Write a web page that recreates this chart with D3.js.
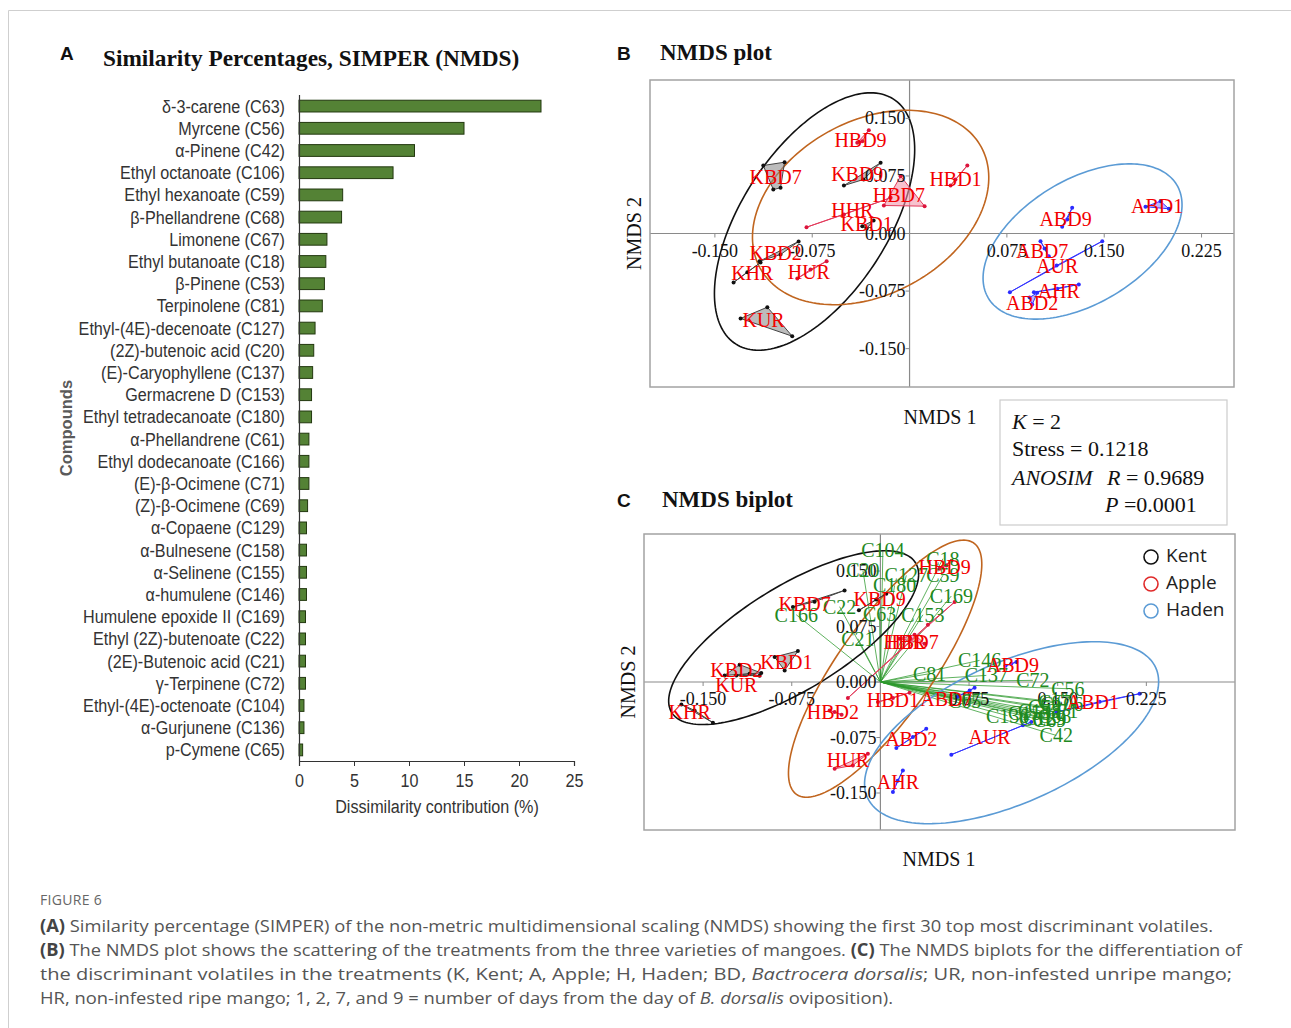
<!DOCTYPE html>
<html>
<head>
<meta charset="utf-8">
<script src="https://cdn.jsdelivr.net/npm/d3@7"></script>
<style>
  body { margin: 0; background: #fff; }
  svg { display: block; }
</style>
</head>
<body>
<svg id="fig" width="1291" height="1028"></svg>
<script>
// ---------- Panel A: SIMPER contributions ----------
const compounds = [
  "δ-3-carene (C63)", "Myrcene (C56)", "α-Pinene (C42)", "Ethyl octanoate (C106)",
  "Ethyl hexanoate (C59)", "β-Phellandrene (C68)", "Limonene (C67)", "Ethyl butanoate (C18)",
  "β-Pinene (C53)", "Terpinolene (C81)", "Ethyl-(4E)-decenoate (C127)", "(2Z)-butenoic acid (C20)",
  "(E)-Caryophyllene (C137)", "Germacrene D (C153)", "Ethyl tetradecanoate (C180)", "α-Phellandrene (C61)",
  "Ethyl dodecanoate (C166)", "(E)-β-Ocimene (C71)", "(Z)-β-Ocimene (C69)", "α-Copaene (C129)",
  "α-Bulnesene (C158)", "α-Selinene (C155)", "α-humulene (C146)", "Humulene epoxide II (C169)",
  "Ethyl (2Z)-butenoate (C22)", "(2E)-Butenoic acid (C21)", "γ-Terpinene (C72)", "Ethyl-(4E)-octenoate (C104)",
  "α-Gurjunene (C136)", "p-Cymene (C65)"
];
const contribution = [
  22.0, 15.0, 10.5, 8.55, 3.97, 3.87, 2.54, 2.44, 2.31, 2.12,
  1.46, 1.34, 1.24, 1.14, 1.14, 0.90, 0.90, 0.90, 0.78, 0.68,
  0.68, 0.68, 0.68, 0.59, 0.59, 0.59, 0.59, 0.45, 0.45, 0.33
];
const contributionTicks = [0, 5, 10, 15, 20, 25];

// ---------- Shared NMDS axis ticks ----------
const nmdsXTicks = [-0.150, -0.075, 0.075, 0.150, 0.225];
const nmdsYTicks = [0.150, 0.075, 0.000, -0.075, -0.150];

// ---------- Panel B: NMDS ordination (3 replicates per treatment) ----------
const plotGroups = [
  { name: "KBD7", variety: "K", pts: [[-0.1127, 0.0886], [-0.0963, 0.0929], [-0.1050, 0.0573], [-0.0994, 0.0595]], label: [-0.1032, 0.0730] },
  { name: "KBD9", variety: "K", pts: [[-0.0506, 0.0625], [-0.0223, 0.0921], [-0.0354, 0.0704]], label: [-0.0403, 0.0769] },
  { name: "KBD1", variety: "K", pts: [[-0.0364, 0.0095], [-0.0331, 0.0065], [-0.0277, 0.0169]], label: [-0.0331, 0.0130] },
  { name: "KBD2", variety: "K", pts: [[-0.1156, -0.0361], [-0.0855, -0.0104], [-0.0994, -0.0274]], label: [-0.1032, -0.0251] },
  { name: "KHR", variety: "K", pts: [[-0.1356, -0.0638], [-0.1250, -0.0504], [-0.1148, -0.0378]], label: [-0.1212, -0.0512] },
  { name: "KUR", variety: "K", pts: [[-0.1302, -0.1107], [-0.1096, -0.0960], [-0.0904, -0.1338]], label: [-0.1125, -0.1121] },
  { name: "HBD9", variety: "H", pts: [[-0.0314, 0.1346], [-0.0403, 0.1182], [-0.0364, 0.1203]], label: [-0.0378, 0.1212] },
  { name: "HBD7", variety: "H", pts: [[-0.0069, 0.0747], [-0.0198, 0.0365], [0.0116, 0.0356]], label: [-0.0082, 0.0508] },
  { name: "HBD1", variety: "H", pts: [[0.0445, 0.0886], [0.0354, 0.0704], [0.0316, 0.0625]], label: [0.0354, 0.0704] },
  { name: "HHR", variety: "H", pts: [[-0.0794, 0.0082], [-0.0506, 0.0248], [-0.0146, 0.0465]], label: [-0.0441, 0.0300] },
  { name: "HUR", variety: "H", pts: [[-0.0865, -0.0586], [-0.0763, -0.0469], [-0.0639, -0.0361]], label: [-0.0776, -0.0504] },
  { name: "ABD1", variety: "A", pts: [[0.1818, 0.0348], [0.1934, 0.0421], [0.1998, 0.0322]], label: [0.1908, 0.0356] },
  { name: "ABD9", variety: "A", pts: [[0.1253, 0.0335], [0.1176, 0.0087], [0.1215, 0.0182]], label: [0.1202, 0.0192] },
  { name: "ABD7", variety: "A", pts: [[0.1009, -0.0100], [0.1073, -0.0296], [0.1040, -0.0195]], label: [0.1022, -0.0231] },
  { name: "AUR", variety: "A", pts: [[0.0773, -0.0765], [0.1485, -0.0100], [0.1133, -0.0417]], label: [0.1138, -0.0426] },
  { name: "AHR", variety: "A", pts: [[0.0958, -0.0765], [0.1304, -0.0664], [0.1138, -0.0721]], label: [0.1150, -0.0752] },
  { name: "ABD2", variety: "A", pts: [[0.0945, -0.0925], [0.0984, -0.0773], [0.0925, -0.0834]], label: [0.0945, -0.0903] }
];
// 95% ellipses per variety: centre and two conjugate semi-diameters (data units)
const plotEllipses = [
  { variety: "K", cx: -0.0732, cy: 0.0156, u: [0.0608, 0.1595], v: [0.0475, -0.0517] },
  { variety: "H", cx: -0.0300, cy: 0.0339, u: [0.0852, 0.0789], v: [0.0321, -0.0991] },
  { variety: "A", cx: 0.1333, cy: -0.0104, u: [0.0726, 0.0738], v: [0.0246, -0.0692] }
];

// ---------- Panel C: NMDS biplot ----------
const biplotGroups = [
  { name: "KBD7", variety: "K", pts: [[-0.0740, 0.1014], [-0.0303, 0.1238], [-0.0557, 0.1085]], label: [-0.0641, 0.1058] },
  { name: "KBD9", variety: "K", pts: [[-0.0182, 0.0968], [-0.0035, 0.1116], [0.0050, 0.1193]], label: [-0.0007, 0.1126] },
  { name: "KBD1", variety: "K", pts: [[-0.0895, 0.0338], [-0.0698, 0.0419], [-0.0810, 0.0157]], label: [-0.0796, 0.0270] },
  { name: "KBD2", variety: "K", pts: [[-0.1191, 0.0234], [-0.1008, 0.0122], [-0.1318, 0.0089]], label: [-0.1219, 0.0157] },
  { name: "KUR", variety: "K", pts: [[-0.1219, 0.0089], [-0.1107, 0.0112], [-0.1022, 0.0085]], label: [-0.1219, -0.0046] },
  { name: "KHR", variety: "K", pts: [[-0.1684, -0.0303], [-0.1572, -0.0384], [-0.1417, -0.0550]], label: [-0.1614, -0.0405] },
  { name: "HBD9", variety: "H", pts: [[0.0558, 0.1576], [0.0602, 0.1639], [0.0501, 0.1531]], label: [0.0543, 0.1554] },
  { name: "HBD7", variety: "H", pts: [[0.0162, 0.0585], [0.0289, 0.0639], [0.0374, 0.0518]], label: [0.0272, 0.0545] },
  { name: "HHR", variety: "H", pts: [[-0.0275, -0.0216], [0.0402, 0.0774], [0.0628, 0.1081]], label: [0.0205, 0.0545] },
  { name: "HBD2", variety: "H", pts: [[-0.0430, -0.0384], [-0.0387, -0.0405], [-0.0328, -0.0442]], label: [-0.0402, -0.0405] },
  { name: "HBD1", variety: "H", pts: [[-0.0021, -0.0270], [0.0106, -0.0216], [0.0247, -0.0145]], label: [0.0106, -0.0249] },
  { name: "HUR", variety: "H", pts: [[-0.0387, -0.1172], [-0.0233, -0.1127], [-0.0106, -0.0969]], label: [-0.0275, -0.1059] },
  { name: "ABD9", variety: "A", pts: [[0.1107, 0.0247], [0.1150, 0.0270], [0.1059, 0.0220]], label: [0.1121, 0.0224] },
  { name: "ABD7", variety: "A", pts: [[0.0755, -0.0114], [0.0653, -0.0199], [0.0797, -0.0077]], label: [0.0558, -0.0226] },
  { name: "ABD1", variety: "A", pts: [[0.1488, -0.0405], [0.1854, -0.0266], [0.2193, -0.0158]], label: [0.1798, -0.0270] },
  { name: "ABD2", variety: "A", pts: [[0.0135, -0.0892], [0.0275, -0.0743], [0.0388, -0.0631]], label: [0.0261, -0.0766] },
  { name: "AUR", variety: "A", pts: [[0.0600, -0.0982], [0.1277, -0.0541], [0.1206, -0.0586]], label: [0.0924, -0.0743] },
  { name: "AHR", variety: "A", pts: [[0.0106, -0.1486], [0.0190, -0.1195], [0.0146, -0.1334]], label: [0.0148, -0.1351] }
];
const biplotEllipses = [
  { variety: "K", cx: -0.0734, cy: 0.0599, u: [0.1032, 0.1010], v: [0.0230, -0.0599] },
  { variety: "H", cx: 0.0040, cy: 0.0180, u: [0.0750, 0.1698], v: [0.0326, -0.0367] },
  { variety: "A", cx: 0.1110, cy: -0.0685, u: [0.1220, 0.0876], v: [0.0243, -0.0863] }
];
// Compound loading vectors (tip coordinates)
const vectorNames = [
  "C104", "C20", "C18", "C59", "C127", "C180", "C169", "C22", "C166", "C63",
  "C153", "C21", "C81", "C146", "C137", "C72", "C56", "C65", "C136", "C68",
  "C42", "C155", "C158", "C129", "C53", "C71", "C69", "C61", "C106", "C67"
];
const vectorX = [
  0.0021, -0.0148, 0.0529, 0.0529, 0.0219, 0.0120, 0.0600, -0.0345, -0.0712, -0.0007,
  0.0360, -0.0190, 0.0416, 0.0839, 0.0896, 0.1290, 0.1586, 0.0712, 0.1076, 0.1474,
  0.1488, 0.1262, 0.1347, 0.1389, 0.1389, 0.1533, 0.1431, 0.1313, 0.1533, 0.1474
];
const vectorY = [
  0.1778, 0.1508, 0.1666, 0.1441, 0.1441, 0.1305, 0.1162, 0.1018, 0.0909, 0.0923,
  0.0909, 0.0585, 0.0112, 0.0292, 0.0089, 0.0022, -0.0091, -0.0253, -0.0455, -0.0455,
  -0.0722, -0.0415, -0.0388, -0.0482, -0.0334, -0.0388, -0.0509, -0.0496, -0.0293, -0.0266
];

const legendItems = ["Kent", "Apple", "Haden"];

const captionLines = [
  [["(A)", "b"], [" Similarity percentage (SIMPER) of the non-metric multidimensional scaling (NMDS) showing the first 30 top most discriminant volatiles.", ""]],
  [["(B)", "b"], [" The NMDS plot shows the scattering of the treatments from the three varieties of mangoes. ", ""], ["(C)", "b"], [" The NMDS biplots for the differentiation of", ""]],
  [["the discriminant volatiles in the treatments (K, Kent; A, Apple; H, Haden; BD, ", ""], ["Bactrocera dorsalis", "i"], ["; UR, non-infested unripe mango;", ""]],
  [["HR, non-infested ripe mango; 1, 2, 7, and 9 = number of days from the day of ", ""], ["B. dorsalis", "i"], [" oviposition).", ""]]
];
const captionWidths = [1173, 1202, 1192, 853];

// ================= drawing =================
const svg = d3.select("#fig");
const SANS = "'Liberation Sans', Arial, sans-serif";
const SERIF = "'Liberation Serif', 'Times New Roman', serif";
const CAP = "'Open Sans', 'Noto Sans', sans-serif";

// page frame
svg.append("path").attr("d", "M8.5,1028V10.5H1291")
  .attr("fill", "none").attr("stroke", "#cfcfcf").attr("stroke-width", 1);

// panel letters
[["A", 60, 60], ["B", 617, 60], ["C", 617, 507]].forEach(([t, x, y]) => {
  svg.append("text").attr("x", x).attr("y", y).text(t)
    .attr("font-family", SANS).attr("font-weight", "bold").attr("font-size", 19).attr("fill", "#111");
});

// ---------- Panel A ----------
(function () {
  const g = svg.append("g");
  const x = d3.scaleLinear().domain([0, 25]).range([299, 574]);
  const y = d3.scaleBand().domain(compounds).range([95, 761]).paddingInner(0.47).paddingOuter(0.235);
  const narrow = "scale(0.85,1)";

  g.append("text").attr("x", 103).attr("y", 66)
    .text("Similarity Percentages, SIMPER (NMDS)")
    .attr("font-family", SERIF).attr("font-weight", "bold").attr("font-size", 23.3).attr("fill", "#111");

  g.selectAll("rect.bar").data(compounds).join("rect").attr("class", "bar")
    .attr("x", x(0)).attr("y", d => y(d))
    .attr("width", (d, i) => x(contribution[i]) - x(0))
    .attr("height", y.bandwidth())
    .attr("fill", "#548235").attr("stroke", "#22380f").attr("stroke-width", 1);

  // category labels (condensed)
  g.selectAll("text.cat").data(compounds).join("text").attr("class", "cat")
    .attr("transform", d => `translate(285,${y(d) + y.bandwidth() / 2}) ${narrow}`)
    .attr("text-anchor", "end").attr("dominant-baseline", "central")
    .attr("font-family", SANS).attr("font-size", 19).attr("fill", "#333")
    .text(d => d);

  // vertical axis line
  g.append("line").attr("x1", 299.5).attr("x2", 299.5).attr("y1", 95).attr("y2", 761)
    .attr("stroke", "#333").attr("stroke-width", 1.2);

  const ax = g.append("g").attr("transform", "translate(0,761)")
    .call(d3.axisBottom(x).tickValues(contributionTicks).tickSize(5).tickPadding(8).tickFormat(d3.format("d")));
  ax.select(".domain").attr("stroke", "#333").attr("stroke-width", 1.2);
  ax.selectAll(".tick line").attr("stroke", "#333");
  ax.selectAll(".tick text").attr("transform", narrow)
    .attr("font-family", SANS).attr("font-size", 19).attr("fill", "#333");

  g.append("text").attr("transform", `translate(437,807) ${narrow}`)
    .attr("text-anchor", "middle").attr("dominant-baseline", "central")
    .attr("font-family", SANS).attr("font-size", 19).attr("fill", "#333")
    .text("Dissimilarity contribution (%)");

  g.append("text").attr("transform", "translate(66,428) rotate(-90)")
    .attr("text-anchor", "middle").attr("dominant-baseline", "central")
    .attr("font-family", SANS).attr("font-weight", "bold").attr("font-size", 16.5).attr("fill", "#5a5a5a")
    .text("Compounds");
})();

// ---------- NMDS panels ----------
const varietyStyle = {
  K: { dot: "#111", hullFill: "#8f8f8f", hullStroke: "#444", ellipse: "#111" },
  H: { dot: "#dc143c", hullFill: "#f29aae", hullStroke: "#e33b5c", ellipse: "#c0651f" },
  A: { dot: "#2b2bff", hullFill: "#8a8aff", hullStroke: "#3535ff", ellipse: "#5b9bd5" }
};
const fmtTick = v => (v < 0 ? "-" : "") + Math.abs(v).toFixed(3);

function nmdsPanel(cfg) {
  const g = svg.append("g");
  const x = d3.scaleLinear().domain(cfg.xDomain).range([cfg.left, cfg.right]);
  const y = d3.scaleLinear().domain(cfg.yDomain).range([cfg.bottom, cfg.top]);
  const px = p => [x(p[0]), y(p[1])];

  // title
  g.append("text").attr("x", cfg.titleX).attr("y", cfg.titleY).text(cfg.title)
    .attr("font-family", SERIF).attr("font-weight", "bold").attr("font-size", 23).attr("fill", "#111");

  // zero axes
  g.append("line").attr("x1", cfg.left).attr("x2", cfg.right).attr("y1", y(0)).attr("y2", y(0))
    .attr("stroke", "#8a8a8a").attr("stroke-width", 1.2);
  g.append("line").attr("x1", x(0)).attr("x2", x(0)).attr("y1", cfg.top).attr("y2", cfg.bottom)
    .attr("stroke", "#8a8a8a").attr("stroke-width", 1.2);

  // compound vectors
  if (cfg.vectors) {
    const vg = g.append("g");
    cfg.vectors.forEach(v => {
      vg.append("line").attr("x1", x(0)).attr("y1", y(0)).attr("x2", x(v.x)).attr("y2", y(v.y))
        .attr("stroke", "#2e9a2e").attr("stroke-width", 0.9).attr("stroke-opacity", 0.85);
    });
  }

  // confidence ellipses
  const line = d3.line().curve(d3.curveLinearClosed);
  cfg.ellipses.forEach(e => {
    const pts = d3.range(0, 2 * Math.PI, Math.PI / 90).map(t => px([
      e.cx + e.u[0] * Math.cos(t) + e.v[0] * Math.sin(t),
      e.cy + e.u[1] * Math.cos(t) + e.v[1] * Math.sin(t)
    ]));
    g.append("path").attr("d", line(pts)).attr("fill", "none")
      .attr("stroke", varietyStyle[e.variety].ellipse).attr("stroke-width", 1.6);
  });

  // treatment hulls and replicate points
  cfg.groups.forEach(gr => {
    const st = varietyStyle[gr.variety];
    const pp = gr.pts.map(px);
    const hull = d3.polygonHull(pp);
    if (hull) {
      g.append("path").attr("d", "M" + hull.join("L") + "Z")
        .attr("fill", st.hullFill).attr("fill-opacity", 0.6)
        .attr("stroke", st.hullStroke).attr("stroke-width", 1);
    }
    pp.forEach(p => g.append("circle").attr("cx", p[0]).attr("cy", p[1]).attr("r", 2).attr("fill", st.dot));
  });

  // tick marks and labels
  const tg = g.append("g").attr("font-family", SERIF).attr("font-size", 18).attr("fill", "#111");
  nmdsXTicks.forEach(v => {
    tg.append("line").attr("x1", x(v)).attr("x2", x(v)).attr("y1", y(0)).attr("y2", y(0) + 4).attr("stroke", "#8a8a8a");
    tg.append("text").attr("x", x(v)).attr("y", y(0) + 17).attr("text-anchor", "middle")
      .attr("dominant-baseline", "central").text(fmtTick(v));
  });
  nmdsYTicks.forEach(v => {
    tg.append("line").attr("x1", x(0) - 4).attr("x2", x(0)).attr("y1", y(v)).attr("y2", y(v)).attr("stroke", "#8a8a8a");
    tg.append("text").attr("x", x(0) - 4).attr("y", y(v)).attr("text-anchor", "end")
      .attr("dominant-baseline", "central").text(fmtTick(v));
  });

  // vector labels
  if (cfg.vectors) {
    cfg.vectors.forEach(v => {
      g.append("text").attr("x", x(v.x)).attr("y", y(v.y)).attr("text-anchor", "middle")
        .attr("dominant-baseline", "central").attr("font-family", SERIF).attr("font-size", 20)
        .attr("fill", "#1f8a1f").text(v.name);
    });
  }

  // treatment labels
  cfg.groups.forEach(gr => {
    g.append("text").attr("x", x(gr.label[0])).attr("y", y(gr.label[1])).attr("text-anchor", "middle")
      .attr("dominant-baseline", "central").attr("font-family", SERIF).attr("font-size", 20)
      .attr("fill", "#f20000").text(gr.name);
  });

  // frame
  g.append("rect").attr("x", cfg.left).attr("y", cfg.top)
    .attr("width", cfg.right - cfg.left).attr("height", cfg.bottom - cfg.top)
    .attr("fill", "none").attr("stroke", "#a3a3a3").attr("stroke-width", 1.5);

  // axis titles
  g.append("text").attr("x", cfg.xLabelX).attr("y", cfg.xLabelY).attr("text-anchor", "middle")
    .attr("dominant-baseline", "central").attr("font-family", SERIF).attr("font-size", 20).attr("fill", "#111")
    .text("NMDS 1");
  g.append("text").attr("transform", `translate(${cfg.yLabelX},${y(0)}) rotate(-90)`).attr("text-anchor", "middle")
    .attr("dominant-baseline", "central").attr("font-family", SERIF).attr("font-size", 20).attr("fill", "#111")
    .text("NMDS 2");

  return { x, y, g };
}

nmdsPanel({
  title: "NMDS plot", titleX: 660, titleY: 60,
  left: 650, right: 1234, top: 80, bottom: 387,
  xDomain: [-0.2, 0.25], yDomain: [-0.2, 0.2],
  groups: plotGroups, ellipses: plotEllipses,
  xLabelX: 940, xLabelY: 417, yLabelX: 634
});

nmdsPanel({
  title: "NMDS biplot", titleX: 662, titleY: 507,
  left: 644, right: 1235, top: 534, bottom: 830,
  xDomain: [-0.2, 0.3], yDomain: [-0.2, 0.2],
  groups: biplotGroups, ellipses: biplotEllipses,
  vectors: vectorNames.map((n, i) => ({ name: n, x: vectorX[i], y: vectorY[i] })),
  xLabelX: 939, xLabelY: 859, yLabelX: 628
});

// legend for panel C
(function () {
  const lg = svg.append("g");
  const cols = [varietyStyle.K.ellipse, "#e02a2a", varietyStyle.A.ellipse];
  legendItems.forEach((t, i) => {
    const yy = 555 + i * 27;
    lg.append("circle").attr("cx", 1151).attr("cy", yy + 2).attr("r", 7)
      .attr("fill", "none").attr("stroke", cols[i]).attr("stroke-width", 1.6);
    lg.append("text").attr("x", 1166).attr("y", yy).attr("dominant-baseline", "central")
      .attr("font-family", CAP).attr("font-size", 19).attr("fill", "#222").text(t);
  });
})();

// statistics box
(function () {
  const bg = svg.append("g").attr("font-family", SERIF).attr("font-size", 22).attr("fill", "#111");
  bg.append("rect").attr("x", 1000).attr("y", 400).attr("width", 227).attr("height", 125)
    .attr("fill", "#fff").attr("stroke", "#cccccc").attr("stroke-width", 1.2);
  const t1 = bg.append("text").attr("x", 1012).attr("y", 429);
  t1.append("tspan").attr("font-style", "italic").text("K");
  t1.append("tspan").text(" = 2");
  bg.append("text").attr("x", 1012).attr("y", 456).text("Stress = 0.1218");
  const t3 = bg.append("text").attr("x", 1012).attr("y", 485);
  t3.append("tspan").attr("font-style", "italic").text("ANOSIM");
  t3.append("tspan").attr("x", 1107).attr("font-style", "italic").text("R");
  t3.append("tspan").text(" = 0.9689");
  const t4 = bg.append("text").attr("x", 1105).attr("y", 512);
  t4.append("tspan").attr("font-style", "italic").text("P");
  t4.append("tspan").text(" =0.0001");
})();

// caption
(function () {
  const cg = svg.append("g").attr("font-family", CAP).attr("fill", "#555");
  cg.append("text").attr("x", 40).attr("y", 905).attr("font-size", 14).attr("letter-spacing", 0.3)
    .attr("fill", "#666").text("FIGURE 6");
  captionLines.forEach((segs, i) => {
    const t = cg.append("text").attr("x", 40).attr("y", 932 + i * 24).attr("font-size", 17)
      .attr("textLength", captionWidths[i]).attr("lengthAdjust", "spacingAndGlyphs");
    segs.forEach(([s, k]) => {
      const ts = t.append("tspan").text(s);
      if (k === "b") ts.attr("font-weight", "bold").attr("fill", "#444");
      if (k === "i") ts.attr("font-style", "italic");
    });
  });
})();
</script>
</body>
</html>
